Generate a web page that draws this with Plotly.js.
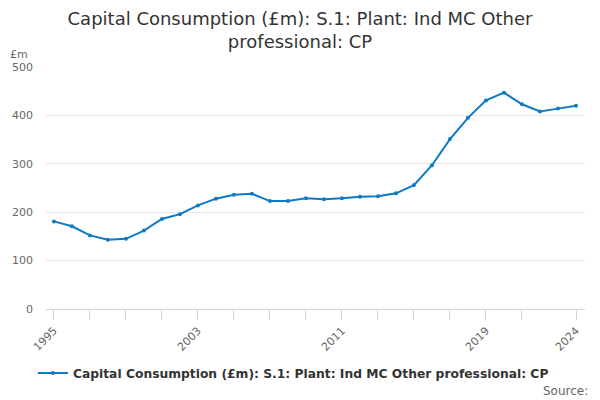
<!DOCTYPE html>
<html>
<head>
<meta charset="utf-8">
<script src="https://cdn.plot.ly/plotly-3.0.1.min.js"></script>
<style>
  body { margin: 0; }
  #plot { width: 600px; height: 400px; }
</style>
</head>
<body>
<div id="plot"></div>
<script>
var years = [];
for (var y = 1995; y <= 2024; y++) years.push(y);

var values = [181, 171, 152, 143, 145, 162, 186, 196, 214, 228,
              236, 238, 223, 223, 229, 227, 229, 232, 233, 239,
              256, 297, 351, 395, 431, 447, 423, 408, 414, 420];

var tickYears = [1995, 1997, 1999, 2001, 2003, 2005, 2007, 2009, 2011,
                 2013, 2015, 2017, 2019, 2021, 2024];
var labelYears = [1995, 2003, 2011, 2019, 2024];

var seriesName = 'Capital Consumption (£m): S.1: Plant: Ind MC Other professional: CP';

var data = [
    {
        type: 'scatter',
        mode: 'lines+markers',
        x: years,
        y: values,
        name: seriesName,
        line: {color: '#0d7ac4', width: 2},
        marker: {color: '#0d7ac4', size: 4},
        showlegend: true
    }
];

var layout = {
    width: 600,
    height: 400,
    font: {family: 'DejaVu Sans', color: '#333333'},
    paper_bgcolor: '#ffffff',
    plot_bgcolor: '#ffffff',
    margin: {l: 46, r: 15, t: 67, b: 89},
    title: {
        text: 'Capital Consumption (£m): S.1: Plant: Ind MC Other<br>professional: CP',
        font: {size: 18, color: '#333333'},
        x: 0.5, xanchor: 'center',
        yref: 'container',
        y: 0.9375, yanchor: 'middle'
    },
    xaxis: {
        range: [1994.56, 2024.5],
        tickvals: tickYears,
        ticktext: tickYears.map(function (t) { return labelYears.indexOf(t) >= 0 ? String(t) : ''; }),
        tickangle: -45,
        ticks: 'outside',
        ticklen: 10,
        tickcolor: '#ccd6eb',
        showline: true,
        linecolor: '#ccd6eb',
        showgrid: false,
        zeroline: false,
        tickfont: {size: 11, color: '#666666'}
    },
    yaxis: {
        range: [0, 500],
        tickvals: [0, 100, 200, 300, 400, 500],
        gridcolor: '#e6e6e6',
        zeroline: false,
        showline: false,
        ticks: '',
        ticklabelstandoff: 12,
        tickfont: {size: 11, color: '#666666'}
    },
    legend: {
        orientation: 'h',
        x: 0.459, xanchor: 'center',
        y: -0.205, yanchor: 'top',
        font: {size: 12.3, color: '#333333', weight: 'bold'}
    },
    annotations: [
        {
            text: '£m', xref: 'paper', yref: 'paper',
            x: -0.07, y: 1.015, xanchor: 'left', yanchor: 'bottom',
            showarrow: false, font: {size: 11, color: '#666666'}
        },
        {
            text: 'Source:', xref: 'paper', yref: 'paper',
            x: 1.01, y: -0.3, xanchor: 'right', yanchor: 'top',
            showarrow: false, font: {size: 12, color: '#666666'}
        }
    ]
};

Plotly.newPlot('plot', data, layout, {displayModeBar: false});
</script>
</body>
</html>
